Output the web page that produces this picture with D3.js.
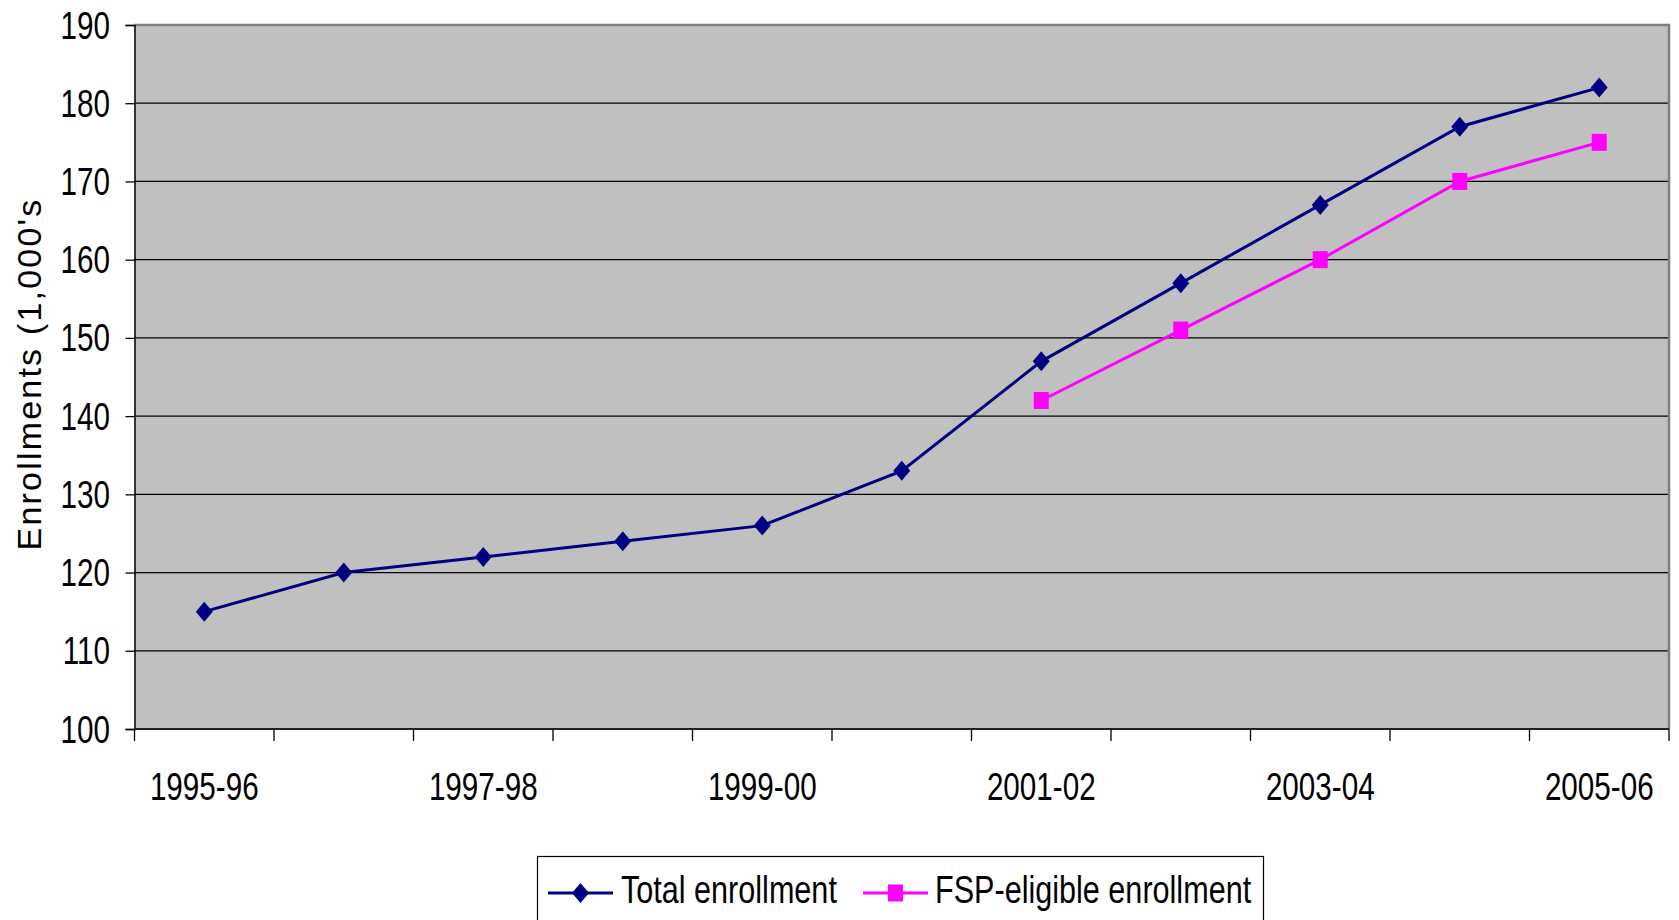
<!DOCTYPE html>
<html>
<head>
<meta charset="utf-8">
<script src="https://cdn.jsdelivr.net/npm/d3@7"></script>
<style>
  body { margin: 0; background: #fff; }
  svg text { font-family: "Liberation Sans", Arial, sans-serif; fill: #000; }
</style>
</head>
<body>
<svg id="chart" width="1679" height="920"></svg>
<script>
// school years
var years = ["1995-96", "1996-97", "1997-98", "1998-99", "1999-00", "2000-01",
             "2001-02", "2002-03", "2003-04", "2004-05", "2005-06"];
var labelYears = ["1995-96", "1997-98", "1999-00", "2001-02", "2003-04", "2005-06"];

// enrollments in 1,000's
var totalEnrollment = [115, 120, 122, 124, 126, 133, 147, 157, 167, 177, 182];
var fspEnrollment = [null, null, null, null, null, null, 142, 151, 160, 170, 175];

var yTicks = [100, 110, 120, 130, 140, 150, 160, 170, 180, 190];

var svg = d3.select("#chart");

var plotLeft = 134.5, plotRight = 1669, plotTop = 25, plotBottom = 729;

var x = d3.scaleBand().domain(years).range([plotLeft, plotRight]).padding(0);
var y = d3.scaleLinear().domain([100, 190]).range([plotBottom, plotTop]);
var cx = function(d){ return x(d) + x.bandwidth() / 2; };

// text in the original is squeezed sideways
function narrowText(sel, px, py, sq){
    sel.attr("x", 0).attr("y", 0)
       .attr("transform", "translate(" + px + "," + py + ") scale(" + sq + ",1)");
}

// plot background
svg.append("rect")
    .attr("x", plotLeft).attr("y", plotTop)
    .attr("width", plotRight - plotLeft).attr("height", plotBottom - plotTop)
    .attr("fill", "#c0c0c0");

// gridlines
svg.append("g").selectAll("line")
    .data(yTicks.filter(function(t){ return t > 100 && t < 190; }))
    .join("line")
    .attr("x1", plotLeft).attr("x2", plotRight)
    .attr("y1", function(d){ return y(d); }).attr("y2", function(d){ return y(d); })
    .attr("stroke", "#000").attr("stroke-width", 1.2);

// top and right border
svg.append("path")
    .attr("d", "M" + plotLeft + "," + plotTop + "H" + plotRight + "V" + plotBottom)
    .attr("fill", "none").attr("stroke", "#808080").attr("stroke-width", 2.5);

// y axis
var yAxis = svg.append("g")
    .attr("transform", "translate(" + plotLeft + ",0)")
    .call(d3.axisLeft(y).tickValues(yTicks).tickSize(9).tickFormat(""));
yAxis.select(".domain").attr("stroke", "#000").attr("stroke-width", 1.5);
yAxis.selectAll(".tick line").attr("stroke", "#000").attr("stroke-width", 1.3);

svg.append("g").selectAll("text").data(yTicks).join("text")
    .attr("text-anchor", "end")
    .attr("font-size", 38)
    .text(function(d){ return d; })
    .each(function(d){ narrowText(d3.select(this), 110, y(d) + 13.5, 0.78); });

// x axis: ticks on category boundaries, labels on every other category
var bounds = years.map(function(d){ return x(d); }).concat([plotRight]);
var xAxis = svg.append("g");
xAxis.append("line")
    .attr("x1", plotLeft).attr("x2", plotRight).attr("y1", plotBottom).attr("y2", plotBottom)
    .attr("stroke", "#202020").attr("stroke-width", 1.8);
xAxis.selectAll("line.tk").data(bounds).join("line")
    .attr("class", "tk")
    .attr("x1", function(d){ return d; }).attr("x2", function(d){ return d; })
    .attr("y1", plotBottom).attr("y2", plotBottom + 12)
    .attr("stroke", "#000").attr("stroke-width", 1.3);
xAxis.selectAll("text").data(labelYears).join("text")
    .attr("text-anchor", "middle")
    .attr("font-size", 38)
    .text(function(d){ return d; })
    .each(function(d){ narrowText(d3.select(this), cx(d), 800, 0.78); });

// y axis title
svg.append("text")
    .attr("transform", "translate(41,374) rotate(-90)")
    .attr("text-anchor", "middle")
    .style("letter-spacing", "2.2px")
    .attr("font-size", 34)
    .text("Enrollments (1,000's");

// series
var series = [
    { name: "Total enrollment", values: totalEnrollment, color: "#000080", shape: "diamond" },
    { name: "FSP-eligible enrollment", values: fspEnrollment, color: "#ff00ff", shape: "square" }
];

var line = d3.line()
    .defined(function(d){ return d.v != null; })
    .x(function(d){ return cx(d.year); })
    .y(function(d){ return y(d.v); });

function marker(g, shape, color){
    if(shape == "diamond"){
        g.append("path").attr("d", "M0,-10L8.5,0L0,10L-8.5,0Z").attr("fill", color);
    } else {
        g.append("rect").attr("x", -7.5).attr("y", -8.5).attr("width", 15).attr("height", 17).attr("fill", color);
    }
}

series.forEach(function(s){
    var pts = years.map(function(yr, i){ return { year: yr, v: s.values[i] }; });
    svg.append("path")
        .datum(pts)
        .attr("d", line)
        .attr("fill", "none")
        .attr("stroke", s.color)
        .attr("stroke-width", 3);
    pts.filter(function(p){ return p.v != null; }).forEach(function(p){
        var g = svg.append("g").attr("transform", "translate(" + cx(p.year) + "," + y(p.v) + ")");
        marker(g, s.shape, s.color);
    });
});

// legend
var legend = svg.append("g");
legend.append("rect")
    .attr("x", 537.5).attr("y", 856.5)
    .attr("width", 726).attr("height", 80)
    .attr("fill", "#fff").attr("stroke", "#000").attr("stroke-width", 1.2);

var legendItems = [
    { s: series[0], lx: 548, tx: 621 },
    { s: series[1], lx: 863, tx: 935 }
];
legendItems.forEach(function(it){
    legend.append("line")
        .attr("x1", it.lx).attr("x2", it.lx + 65)
        .attr("y1", 893).attr("y2", 893)
        .attr("stroke", it.s.color).attr("stroke-width", 3);
    var g = legend.append("g").attr("transform", "translate(" + (it.lx + 32.5) + ",893)");
    marker(g, it.s.shape, it.s.color);
    legend.append("text")
        .attr("font-size", 38)
        .text(it.s.name)
        .each(function(){ narrowText(d3.select(this), it.tx, 903, 0.805); });
});
</script>
</body>
</html>
